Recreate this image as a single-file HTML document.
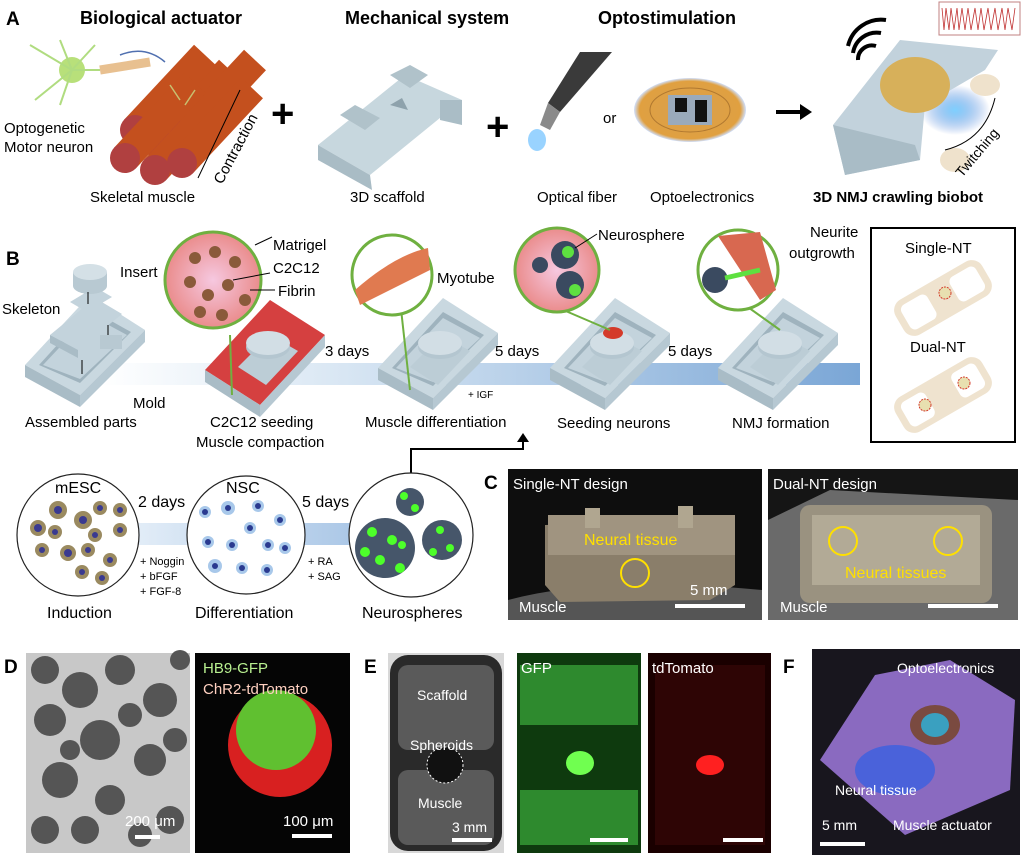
<!DOCTYPE html>
<html><head><meta charset="utf-8"><style>
body{margin:0;background:#fff;width:1024px;height:857px;overflow:hidden}
svg{display:block;font-family:"Liberation Sans",Arial,sans-serif}
</style></head><body>
<svg width="1024" height="857" viewBox="0 0 1024 857">
<defs>
<linearGradient id="band" x1="0" x2="1"><stop offset="0" stop-color="#fff"/><stop offset="0.3" stop-color="#dbe8f4"/><stop offset="1" stop-color="#7aa6d6"/></linearGradient>
<linearGradient id="band2" x1="0" x2="1"><stop offset="0" stop-color="#e4eef8"/><stop offset="1" stop-color="#a9c6e6"/></linearGradient>
<radialGradient id="pink"><stop offset="0" stop-color="#f6c8e0"/><stop offset="1" stop-color="#ea8c8c"/></radialGradient>
<radialGradient id="glow"><stop offset="0" stop-color="#7fd0ff"/><stop offset="1" stop-color="#3a6fd0" stop-opacity="0"/></radialGradient>
<radialGradient id="coil"><stop offset="0" stop-color="#d8a050"/><stop offset="0.9" stop-color="#e0a040"/><stop offset="1" stop-color="#cfe0ff"/></radialGradient>
<g id="mold">
<polygon points="0,70 65,0 120,35 55,100" fill="#c9d8e0"/>
<polygon points="0,70 55,100 55,112 0,82" fill="#a9bcc6"/>
<polygon points="55,100 120,35 120,47 55,112" fill="#b6c8d2"/>
<polygon points="14,70 65,14 106,37 55,88" fill="#9fb3be"/>
<polygon points="18,70 65,20 102,40 55,84" fill="#c3d3dc"/>
</g>
<g id="plat">
<polygon points="30,62 62,30 90,46 58,80" fill="#bccdd6"/>
<ellipse cx="60" cy="42" rx="22" ry="12" fill="#b4c6d0"/>
<ellipse cx="60" cy="38" rx="22" ry="12" fill="#d2dee5"/>
</g>
<g id="cyl"><line x1="0" y1="0" x2="70" y2="-75" stroke="#c4501e" stroke-width="30"/><circle r="15" fill="#b04040"/></g>
</defs>
<!-- Panel A -->
<text x="6" y="25" font-size="19" font-weight="bold">A</text>
<text x="80" y="24" font-size="18" font-weight="bold">Biological actuator</text>
<text x="345" y="24" font-size="18" font-weight="bold">Mechanical system</text>
<text x="598" y="24" font-size="18" font-weight="bold">Optostimulation</text>
<circle cx="72" cy="70" r="13" fill="#b8e07a"/>
<path d="M30 45 L72 70 L35 100 M72 70 L60 40 M72 70 L95 45 M72 70 L100 70 M72 70 L60 105" stroke="#b0dc80" stroke-width="2" fill="none"/>
<path d="M100 70 L150 62" stroke="#e8c090" stroke-width="9"/>
<path d="M120 55 Q145 45 165 62" stroke="#5070b0" stroke-width="1.5" fill="none"/>
<use href="#cyl" x="160" y="145"/><use href="#cyl" x="135" y="130"/><use href="#cyl" x="185" y="135"/>
<use href="#cyl" x="125" y="158"/><use href="#cyl" x="155" y="170"/><use href="#cyl" x="182" y="163"/>
<path d="M195 90 L185 105 M180 100 L170 85" stroke="#c8c070" stroke-width="1.5"/>
<path d="M198 178 L240 90" stroke="#000" stroke-width="1"/>
<text x="222" y="185" font-size="15" transform="rotate(-62 222 185)">Contraction</text>
<text x="4" y="133" font-size="15">Optogenetic</text>
<text x="4" y="152" font-size="15">Motor neuron</text>
<text x="90" y="202" font-size="15">Skeletal muscle</text>
<text x="271" y="127" font-size="40" font-weight="bold">+</text>
<polygon points="318,145 405,75 462,100 370,175" fill="#c7d7de"/>
<polygon points="318,145 370,175 372,190 318,160" fill="#a9bcc5"/>
<polygon points="340,115 355,105 380,118 365,130" fill="#b0c2ca"/>
<polygon points="390,75 410,65 428,75 410,88" fill="#b0c2ca"/>
<polygon points="440,100 462,100 462,125 440,120" fill="#aabdc6"/>
<polygon points="390,105 402,98 408,110" fill="#8ea2ac"/>
<text x="350" y="202" font-size="15">3D scaffold</text>
<text x="486" y="140" font-size="40" font-weight="bold">+</text>
<polygon points="580,52 612,52 560,112 548,103" fill="#3a3a3a"/>
<polygon points="548,103 560,112 550,130 540,125" fill="#8a8a8a"/>
<ellipse cx="537" cy="140" rx="9" ry="11" fill="#7fc8ff" opacity="0.8"/>
<text x="537" y="202" font-size="15">Optical fiber</text>
<text x="603" y="123" font-size="15">or</text>
<ellipse cx="690" cy="110" rx="56" ry="32" fill="url(#coil)"/>
<ellipse cx="690" cy="110" rx="40" ry="22" fill="none" stroke="#b07830" stroke-width="1"/>
<rect x="668" y="95" width="44" height="30" fill="#9aaabb"/>
<rect x="675" y="98" width="12" height="14" fill="#111"/><rect x="695" y="100" width="12" height="22" fill="#111"/>
<text x="650" y="202" font-size="15">Optoelectronics</text>
<path d="M776 112 H805" stroke="#000" stroke-width="4"/><polygon points="800,104 812,112 800,120" fill="#000"/>
<rect x="939" y="2" width="81" height="33" fill="#fff" stroke="#c08080" stroke-width="1"/>
<path d="M942 8 L944 30 L946 8 L949 30 L951 8 L954 30 L957 8 L959 30 L962 8 L965 30 L968 8 L971 30 L975 8 L978 30 L981 8 L984 30 L988 8 L991 30 L995 8 L998 30 L1002 8 L1005 30 L1008 8 L1012 30 L1015 8" stroke="#c03030" fill="none" stroke-width="0.8"/>
<path d="M858 60 a14 14 0 0 1 18 -14 M853 53 a24 24 0 0 1 28 -20 M848 46 a34 34 0 0 1 38 -26" stroke="#000" stroke-width="4" fill="none"/>
<ellipse cx="955" cy="110" rx="35" ry="25" fill="url(#glow)"/>
<polygon points="833,125 900,40 998,50 985,70 925,105 920,160 845,175" fill="#c2d2dc"/>
<polygon points="833,125 845,175 920,160 915,145" fill="#a9bcc6"/>
<ellipse cx="915" cy="85" rx="35" ry="28" fill="#d7b05a"/>
<ellipse cx="985" cy="85" rx="15" ry="11" fill="#efe2cc"/>
<ellipse cx="955" cy="160" rx="15" ry="12" fill="#efe2cc"/>
<path d="M945 150 Q985 140 995 98" stroke="#000" fill="none"/>
<text x="962" y="178" font-size="14" transform="rotate(-50 962 178)">Twitching</text>
<text x="813" y="202" font-size="15" font-weight="bold">3D NMJ crawling biobot</text>

<!-- Panel B -->
<text x="6" y="265" font-size="19" font-weight="bold">B</text>
<rect x="100" y="363" width="760" height="22" fill="url(#band)"/>
<use href="#mold" x="25" y="295"/>
<rect x="100" y="335" width="22" height="14" fill="#b8c9d2"/>
<polygon points="50,335 95,298 122,314 78,350" fill="#c3d3dc"/>
<polygon points="50,335 78,350 78,358 50,343" fill="#a9bcc6"/>
<polygon points="70,302 95,287 112,297 87,312" fill="#c3d3dc"/>
<rect x="73" y="272" width="34" height="14" fill="#b8c9d2"/>
<ellipse cx="90" cy="286" rx="17" ry="8" fill="#b8c9d2"/>
<ellipse cx="90" cy="272" rx="17" ry="8" fill="#d4e0e6"/>
<path d="M88 292 v12 M108 325 v10 M82 360 v14" stroke="#000"/>
<text x="120" y="277" font-size="15">Insert</text>
<text x="2" y="314" font-size="15">Skeleton</text>
<text x="133" y="408" font-size="15">Mold</text>
<text x="25" y="427" font-size="15">Assembled parts</text>
<polygon points="205,370 270,300 325,335 260,405" fill="#d54040"/>
<polygon points="205,370 260,405 260,417 205,382" fill="#a9bcc6"/>
<polygon points="260,405 325,335 325,347 260,417" fill="#b6c8d2"/>
<use href="#plat" x="208" y="305"/>
<line x1="230" y1="335" x2="232" y2="395" stroke="#6fb040" stroke-width="2"/>
<circle cx="213" cy="280" r="48" fill="url(#pink)" stroke="#6fb040" stroke-width="3"/>
<g fill="#8a5a3a"><circle cx="195" cy="258" r="6"/><circle cx="215" cy="252" r="6"/><circle cx="235" cy="262" r="6"/><circle cx="190" cy="282" r="6"/><circle cx="208" cy="295" r="6"/><circle cx="228" cy="285" r="6"/><circle cx="245" cy="300" r="6"/><circle cx="200" cy="312" r="6"/><circle cx="222" cy="315" r="6"/></g>
<path d="M255 245 L272 237 M233 280 L270 273 M250 290 L275 290" stroke="#000"/>
<text x="273" y="250" font-size="15">Matrigel</text>
<text x="273" y="273" font-size="15">C2C12</text>
<text x="278" y="296" font-size="15">Fibrin</text>
<text x="210" y="427" font-size="15">C2C12 seeding</text>
<text x="196" y="447" font-size="15">Muscle compaction</text>
<text x="325" y="356" font-size="15">3 days</text>
<use href="#mold" x="378" y="298"/>
<use href="#plat" x="380" y="305"/>
<line x1="400" y1="300" x2="410" y2="390" stroke="#6fb040" stroke-width="2"/>
<circle cx="392" cy="275" r="40" fill="#fff" stroke="#6fb040" stroke-width="3"/>
<path d="M355 290 Q395 255 428 248 L430 270 Q400 285 360 305Z" fill="#e07a50"/>
<text x="437" y="283" font-size="15">Myotube</text>
<text x="365" y="427" font-size="15">Muscle differentiation</text>
<text x="495" y="356" font-size="15">5 days</text>
<text x="468" y="398" font-size="10">+ IGF</text>
<use href="#mold" x="550" y="298"/>
<use href="#plat" x="552" y="305"/>
<ellipse cx="613" cy="333" rx="10" ry="6" fill="#d43a2a"/>
<line x1="540" y1="300" x2="610" y2="330" stroke="#6fb040" stroke-width="2"/>
<circle cx="557" cy="270" r="42" fill="url(#pink)" stroke="#6fb040" stroke-width="3"/>
<circle cx="565" cy="255" r="14" fill="#3a4a60"/><circle cx="570" cy="285" r="14" fill="#3a4a60"/><circle cx="540" cy="265" r="8" fill="#3a4a60"/>
<circle cx="568" cy="252" r="6" fill="#5ee040"/><circle cx="575" cy="290" r="6" fill="#5ee040"/>
<path d="M575 248 L597 234" stroke="#000"/>
<text x="598" y="240" font-size="15">Neurosphere</text>
<text x="557" y="428" font-size="15">Seeding neurons</text>
<text x="668" y="356" font-size="15">5 days</text>
<use href="#mold" x="718" y="298"/>
<use href="#plat" x="720" y="305"/>
<line x1="745" y1="305" x2="780" y2="330" stroke="#6fb040" stroke-width="2"/>
<circle cx="738" cy="270" r="40" fill="#fff" stroke="#6fb040" stroke-width="3"/>
<path d="M718 236 L760 232 L776 290 L760 300 Z" fill="#d86850"/>
<circle cx="715" cy="280" r="13" fill="#3a4a60"/>
<path d="M725 278 L760 270" stroke="#5ee040" stroke-width="5"/>
<text x="810" y="237" font-size="15">Neurite</text>
<text x="789" y="258" font-size="15">outgrowth</text>
<text x="732" y="428" font-size="15">NMJ formation</text>
<rect x="871" y="228" width="144" height="214" fill="#fff" stroke="#000" stroke-width="2"/>
<text x="905" y="253" font-size="15">Single-NT</text>
<g transform="rotate(-30 943 298)"><rect x="893" y="278" width="100" height="40" rx="12" fill="#efe3cf"/><rect x="900" y="284" width="30" height="28" rx="6" fill="#fff"/><rect x="956" y="284" width="30" height="28" rx="6" fill="#fff"/></g>
<circle cx="945" cy="293" r="6" fill="#e8e0b0" stroke="#d43a2a" stroke-dasharray="2 1"/>
<text x="910" y="352" font-size="15">Dual-NT</text>
<g transform="rotate(-30 943 395)"><rect x="893" y="375" width="100" height="40" rx="12" fill="#efe3cf"/><rect x="900" y="381" width="28" height="28" rx="6" fill="#fff"/><rect x="958" y="381" width="28" height="28" rx="6" fill="#fff"/></g>
<circle cx="925" cy="405" r="6" fill="#e8e0b0" stroke="#d43a2a" stroke-dasharray="2 1"/><circle cx="964" cy="383" r="6" fill="#e8e0b0" stroke="#d43a2a" stroke-dasharray="2 1"/>
<!-- bottom-left row -->
<rect x="130" y="523" width="230" height="22" fill="url(#band2)"/>
<polyline points="411,473 411,449 523,449 523,440" stroke="#000" stroke-width="2" fill="none"/>
<polygon points="517,442 529,442 523,433" fill="#000"/>
<circle cx="78" cy="535" r="61" fill="#fff" stroke="#222" stroke-width="1.2"/>
<g fill="#9a8a60"><circle cx="38" cy="528" r="8"/><circle cx="58" cy="510" r="9"/><circle cx="83" cy="520" r="9"/><circle cx="100" cy="508" r="7"/><circle cx="120" cy="510" r="7"/><circle cx="55" cy="532" r="7"/><circle cx="95" cy="535" r="7"/><circle cx="120" cy="530" r="7"/><circle cx="42" cy="550" r="7"/><circle cx="68" cy="553" r="8"/><circle cx="88" cy="550" r="7"/><circle cx="110" cy="560" r="7"/><circle cx="82" cy="572" r="7"/><circle cx="102" cy="578" r="7"/></g>
<g fill="#3a3a90"><circle cx="38" cy="528" r="4"/><circle cx="58" cy="510" r="4"/><circle cx="83" cy="520" r="4"/><circle cx="100" cy="508" r="3"/><circle cx="120" cy="510" r="3"/><circle cx="55" cy="532" r="3"/><circle cx="95" cy="535" r="3"/><circle cx="120" cy="530" r="3"/><circle cx="42" cy="550" r="3"/><circle cx="68" cy="553" r="4"/><circle cx="88" cy="550" r="3"/><circle cx="110" cy="560" r="3"/><circle cx="82" cy="572" r="3"/><circle cx="102" cy="578" r="3"/></g>
<text x="55" y="493" font-size="16">mESC</text>
<text x="138" y="507" font-size="16">2 days</text>
<text x="140" y="565" font-size="11">+ Noggin</text><text x="140" y="580" font-size="11">+ bFGF</text><text x="140" y="595" font-size="11">+ FGF-8</text>
<text x="47" y="618" font-size="16">Induction</text>
<circle cx="246" cy="535" r="59" fill="#fff" stroke="#222" stroke-width="1.2"/>
<g fill="#a8c8ea"><circle cx="205" cy="512" r="6"/><circle cx="228" cy="508" r="7"/><circle cx="258" cy="506" r="6"/><circle cx="280" cy="520" r="6"/><circle cx="208" cy="542" r="6"/><circle cx="232" cy="545" r="6"/><circle cx="250" cy="528" r="6"/><circle cx="268" cy="545" r="6"/><circle cx="285" cy="548" r="6"/><circle cx="215" cy="566" r="7"/><circle cx="242" cy="568" r="6"/><circle cx="267" cy="570" r="6"/></g>
<g fill="#2a3a90"><circle cx="205" cy="512" r="3"/><circle cx="228" cy="508" r="3"/><circle cx="258" cy="506" r="3"/><circle cx="280" cy="520" r="3"/><circle cx="208" cy="542" r="3"/><circle cx="232" cy="545" r="3"/><circle cx="250" cy="528" r="3"/><circle cx="268" cy="545" r="3"/><circle cx="285" cy="548" r="3"/><circle cx="215" cy="566" r="3"/><circle cx="242" cy="568" r="3"/><circle cx="267" cy="570" r="3"/></g>
<text x="226" y="493" font-size="16">NSC</text>
<text x="302" y="507" font-size="16">5 days</text>
<text x="308" y="565" font-size="11">+ RA</text><text x="308" y="580" font-size="11">+ SAG</text>
<text x="195" y="618" font-size="16">Differentiation</text>
<circle cx="411" cy="535" r="62" fill="#fff" stroke="#222" stroke-width="1.2"/>
<circle cx="410" cy="502" r="14" fill="#46566a"/><circle cx="385" cy="548" r="30" fill="#46566a"/><circle cx="442" cy="540" r="20" fill="#46566a"/>
<g fill="#4dff2a"><circle cx="404" cy="496" r="4"/><circle cx="415" cy="508" r="4"/><circle cx="372" cy="532" r="5"/><circle cx="392" cy="540" r="5"/><circle cx="380" cy="560" r="5"/><circle cx="400" cy="568" r="5"/><circle cx="365" cy="552" r="5"/><circle cx="440" cy="530" r="4"/><circle cx="450" cy="548" r="4"/><circle cx="433" cy="552" r="4"/><circle cx="402" cy="545" r="4"/></g>
<text x="362" y="618" font-size="16">Neurospheres</text>

<!-- Panel C -->
<text x="484" y="489" font-size="19" font-weight="bold">C</text>
<rect x="508" y="469" width="254" height="151" fill="#0e0e0e"/>
<path d="M508 600 Q600 575 762 590 L762 620 L508 620Z" fill="#555"/>
<polygon points="545,525 735,520 735,585 710,600 560,602 545,585" fill="#8a7e6a"/>
<rect x="548" y="515" width="187" height="40" fill="#a09480"/>
<rect x="585" y="508" width="15" height="20" fill="#b0a690"/><rect x="678" y="506" width="15" height="22" fill="#b0a690"/>
<text x="513" y="489" font-size="15" fill="#fff">Single-NT design</text>
<text x="584" y="545" font-size="16" fill="#ffe000">Neural tissue</text>
<circle cx="635" cy="573" r="14" fill="none" stroke="#ffe000" stroke-width="2"/>
<text x="519" y="612" font-size="15" fill="#fff">Muscle</text>
<text x="690" y="595" font-size="15" fill="#fff">5 mm</text>
<rect x="675" y="604" width="70" height="4" fill="#fff"/>
<rect x="768" y="469" width="250" height="151" fill="#151515"/>
<polygon points="768,520 830,490 1018,500 1018,620 768,620" fill="#6a6a6a"/>
<rect x="800" y="505" width="192" height="98" rx="10" fill="#9a9280"/>
<rect x="812" y="515" width="168" height="70" fill="#b2aa96"/>
<text x="773" y="489" font-size="15" fill="#fff">Dual-NT design</text>
<circle cx="843" cy="541" r="14" fill="none" stroke="#ffe000" stroke-width="2"/>
<circle cx="948" cy="541" r="14" fill="none" stroke="#ffe000" stroke-width="2"/>
<text x="845" y="578" font-size="16" fill="#ffe000">Neural tissues</text>
<text x="780" y="612" font-size="15" fill="#fff">Muscle</text>
<rect x="928" y="604" width="70" height="4" fill="#fff"/>

<!-- Panel D -->
<text x="4" y="673" font-size="19" font-weight="bold">D</text>
<rect x="26" y="653" width="164" height="200" fill="#c8c8c8"/>
<g fill="#555"><circle cx="45" cy="670" r="14"/><circle cx="80" cy="690" r="18"/><circle cx="120" cy="670" r="15"/><circle cx="160" cy="700" r="17"/><circle cx="50" cy="720" r="16"/><circle cx="100" cy="740" r="20"/><circle cx="150" cy="760" r="16"/><circle cx="60" cy="780" r="18"/><circle cx="110" cy="800" r="15"/><circle cx="170" cy="820" r="14"/><circle cx="45" cy="830" r="14"/><circle cx="180" cy="660" r="10"/><circle cx="130" cy="715" r="12"/><circle cx="70" cy="750" r="10"/><circle cx="175" cy="740" r="12"/><circle cx="85" cy="830" r="14"/><circle cx="140" cy="835" r="12"/></g>
<text x="125" y="826" font-size="15" fill="#fff">200 μm</text>
<rect x="135" y="835" width="25" height="4" fill="#fff"/>
<rect x="195" y="653" width="155" height="200" fill="#050505"/>
<circle cx="280" cy="745" r="52" fill="#d82020"/>
<circle cx="276" cy="730" r="40" fill="#60c030"/>
<text x="203" y="673" font-size="15" fill="#b8f090">HB9-GFP</text>
<text x="203" y="694" font-size="15" fill="#ffd0c0">ChR2-tdTomato</text>
<text x="283" y="826" font-size="15" fill="#fff">100 μm</text>
<rect x="292" y="834" width="40" height="4" fill="#fff"/>

<!-- Panel E -->
<text x="364" y="673" font-size="19" font-weight="bold">E</text>
<rect x="388" y="653" width="116" height="200" fill="#d8d8d8"/>
<rect x="390" y="655" width="112" height="196" rx="18" fill="#2a2a2a"/>
<rect x="398" y="665" width="96" height="85" rx="10" fill="#5a5a5a"/>
<rect x="398" y="770" width="96" height="75" rx="10" fill="#5a5a5a"/>
<circle cx="445" cy="765" r="18" fill="#111" stroke="#fff" stroke-dasharray="2 2"/>
<text x="417" y="700" font-size="14" fill="#fff">Scaffold</text>
<text x="410" y="750" font-size="14" fill="#fff">Spheroids</text>
<text x="418" y="808" font-size="14" fill="#fff">Muscle</text>
<text x="452" y="832" font-size="14" fill="#fff">3 mm</text>
<rect x="452" y="838" width="40" height="4" fill="#fff"/>
<rect x="517" y="653" width="124" height="200" fill="#0e3a0e"/>
<rect x="520" y="665" width="118" height="60" fill="#2e8a2e"/>
<rect x="520" y="790" width="118" height="55" fill="#2e8a2e"/>
<ellipse cx="580" cy="763" rx="14" ry="12" fill="#70ff50"/>
<text x="521" y="673" font-size="15" fill="#fff">GFP</text>
<rect x="590" y="838" width="38" height="4" fill="#fff"/>
<rect x="648" y="653" width="123" height="200" fill="#1a0000"/>
<rect x="655" y="665" width="110" height="180" fill="#2e0505"/>
<ellipse cx="710" cy="765" rx="14" ry="10" fill="#ff2020"/>
<text x="652" y="673" font-size="15" fill="#fff">tdTomato</text>
<rect x="723" y="838" width="40" height="4" fill="#fff"/>

<!-- Panel F -->
<text x="783" y="673" font-size="19" font-weight="bold">F</text>
<rect x="812" y="649" width="208" height="206" fill="#18161e"/>
<polygon points="820,760 875,675 950,660 1015,700 1010,790 905,835" fill="#8a6ac0"/>
<ellipse cx="895" cy="770" rx="40" ry="25" fill="#3a60e0" opacity="0.8"/>
<ellipse cx="935" cy="725" rx="25" ry="20" fill="#7a4a40"/>
<ellipse cx="935" cy="725" rx="14" ry="12" fill="#3aa0c0"/>
<text x="897" y="673" font-size="14" fill="#fff">Optoelectronics</text>
<text x="835" y="795" font-size="14" fill="#fff">Neural tissue</text>
<text x="893" y="830" font-size="14" fill="#fff">Muscle actuator</text>
<text x="822" y="830" font-size="14" fill="#fff">5 mm</text>
<rect x="820" y="842" width="45" height="4" fill="#fff"/>
</svg>
</body></html>
